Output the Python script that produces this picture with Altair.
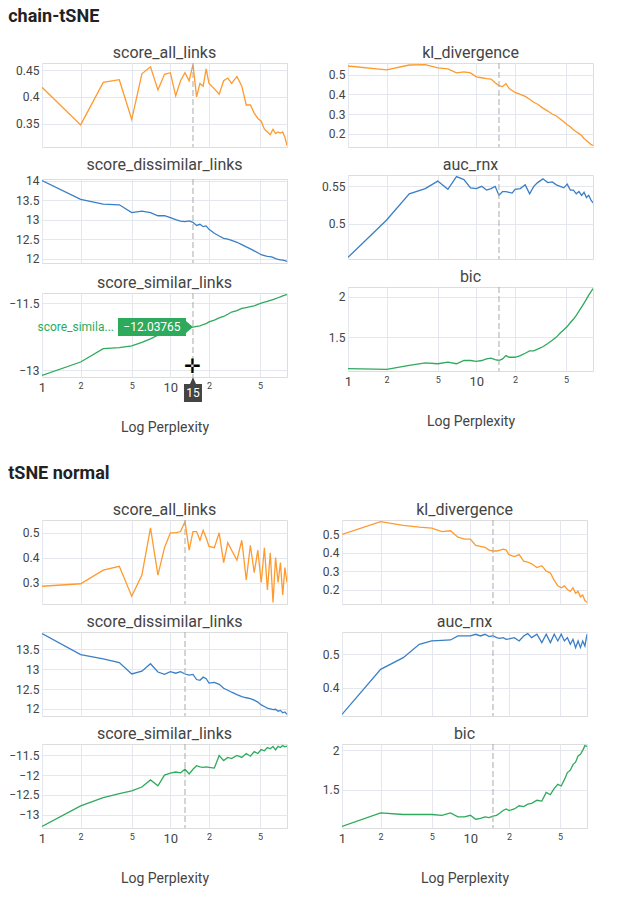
import altair as alt
import pandas as pd

X = list(range(1, 21)) + [22, 24, 26, 28, 30] + list(range(33, 82, 3))

chain_all = [.418,.348,.427,.432,.358,.443,.456,.413,.442,.445,.402,.43,.445,.43,.46,.40,.425,.42,.452,.425,
             .415,.405,.43,.435,.425,.438,.42,.385,.385,.37,.36,.355,.34,.335,.33,.34,.332,.335,.333,.335,.325,.31]
chain_dis = [14.0,13.52,13.4,13.38,13.18,13.22,13.18,13.1,13.1,13.05,13.0,12.96,12.95,12.97,12.93,12.85,12.88,12.82,12.84,12.75,
             12.65,12.58,12.52,12.5,12.47,12.42,12.36,12.3,12.25,12.2,12.15,12.1,12.08,12.06,12.05,12.03,12.0,11.98,11.97,11.96,11.95,11.93]
chain_sim = [-13.12,-12.82,-12.52,-12.5,-12.46,-12.38,-12.3,-12.22,-12.17,-12.12,-12.1,-12.08,-12.06,-12.05,-12.04,-12.02,-12.01,-11.98,-11.96,-11.92,
             -11.88,-11.83,-11.8,-11.75,-11.7,-11.67,-11.62,-11.6,-11.58,-11.56,-11.53,-11.5,-11.48,-11.46,-11.44,-11.42,-11.4,-11.38,-11.36,-11.34,-11.32,-11.31]
chain_kl = [.545,.525,.55,.552,.535,.53,.51,.515,.51,.49,.485,.48,.478,.46,.445,.44,.455,.43,.42,.41,
            .40,.39,.375,.36,.35,.33,.315,.30,.29,.275,.26,.245,.235,.22,.21,.2,.19,.175,.165,.155,.145,.14]
chain_auc = [.455,.505,.54,.547,.557,.546,.563,.559,.548,.547,.55,.545,.547,.55,.538,.543,.543,.542,.541,.546,
             .547,.552,.54,.55,.555,.56,.555,.556,.552,.55,.548,.553,.545,.545,.54,.543,.538,.542,.535,.538,.532,.528]
chain_bic = [1.11,1.10,1.15,1.18,1.17,1.19,1.17,1.21,1.21,1.20,1.21,1.23,1.24,1.22,1.21,1.23,1.27,1.25,1.25,1.25,
             1.27,1.30,1.33,1.33,1.35,1.38,1.42,1.46,1.50,1.55,1.59,1.63,1.68,1.72,1.77,1.82,1.87,1.92,1.97,2.02,2.06,2.1]

norm_all = [.285,.295,.35,.365,.245,.33,.52,.33,.44,.50,.50,.505,.545,.43,.505,.505,.47,.51,.48,.445,
            .44,.50,.38,.46,.43,.39,.47,.31,.45,.34,.43,.30,.44,.27,.42,.22,.40,.30,.38,.25,.36,.30]
norm_dis = [13.9,13.37,13.26,13.17,12.88,12.95,13.14,12.93,12.87,12.94,12.9,12.94,12.88,12.85,12.87,12.74,12.72,12.8,12.76,12.65,
            12.67,12.62,12.52,12.47,12.42,12.36,12.31,12.28,12.26,12.22,12.17,12.1,12.06,12.02,12.0,11.98,11.99,11.94,11.96,11.9,11.92,11.86]
norm_sim = [-13.3,-12.78,-12.57,-12.47,-12.4,-12.3,-12.12,-12.27,-12.0,-11.95,-11.92,-11.94,-11.85,-11.97,-11.85,-11.76,-11.79,-11.8,-11.79,-11.8,
            -11.82,-11.5,-11.63,-11.55,-11.58,-11.5,-11.55,-11.45,-11.52,-11.4,-11.45,-11.35,-11.38,-11.3,-11.33,-11.27,-11.36,-11.27,-11.3,-11.25,-11.28,-11.26]
norm_kl = [.50,.57,.55,.54,.535,.515,.52,.485,.475,.475,.44,.435,.43,.415,.41,.41,.415,.42,.415,.39,
           .38,.39,.355,.35,.34,.32,.33,.30,.29,.25,.22,.21,.22,.20,.19,.21,.18,.19,.16,.17,.14,.13]
norm_auc = [.32,.455,.49,.53,.54,.542,.543,.555,.555,.555,.56,.555,.56,.553,.556,.55,.548,.55,.545,.546,
            .55,.54,.555,.562,.55,.56,.535,.56,.535,.56,.54,.56,.54,.55,.53,.545,.52,.54,.52,.54,.525,.56]
norm_bic = [1.04,1.21,1.19,1.19,1.19,1.18,1.21,1.16,1.16,1.18,1.13,1.14,1.16,1.15,1.17,1.18,1.21,1.24,1.26,1.24,
            1.26,1.3,1.29,1.32,1.33,1.37,1.36,1.47,1.44,1.52,1.57,1.55,1.63,1.72,1.75,1.82,1.85,1.93,1.95,2.0,2.06,2.05]

ORANGE, BLUE, GREEN = "#ff9a2e", "#3a7fc5", "#2eaa5c"
GRID = "#e4e7ee"
TXT = "#444444"

sections = {
    "chain-tSNE": {
        "left": [("score_all_links", chain_all, ORANGE, [0.35, 0.4, 0.45]),
                 ("score_dissimilar_links", chain_dis, BLUE, [12, 12.5, 13, 13.5, 14]),
                 ("score_similar_links", chain_sim, GREEN, [-13, -12.5, -12, -11.5])],
        "right": [("kl_divergence", chain_kl, ORANGE, [0.2, 0.3, 0.4, 0.5]),
                  ("auc_rnx", chain_auc, BLUE, [0.5, 0.55]),
                  ("bic", chain_bic, GREEN, [1.5, 2])],
        "spike": (15, 15),
    },
    "tSNE normal": {
        "left": [("score_all_links", norm_all, ORANGE, [0.3, 0.4, 0.5]),
                 ("score_dissimilar_links", norm_dis, BLUE, [12, 12.5, 13, 13.5]),
                 ("score_similar_links", norm_sim, GREEN, [-13, -12.5, -12, -11.5])],
        "right": [("kl_divergence", norm_kl, ORANGE, [0.2, 0.3, 0.4, 0.5]),
                  ("auc_rnx", norm_auc, BLUE, [0.4, 0.5]),
                  ("bic", norm_bic, GREEN, [1.5, 2])],
        "spike": (13, 15),
    },
}

W, H = 245, 84


def panel(name, vals, color, ticks, bottom, spike_x, annot=False):
    df = pd.DataFrame({"x": X, "y": vals})
    lo, hi = min(vals), max(vals)
    pad = (hi - lo) * 0.02
    xaxis = alt.Axis(
        values=[1, 2, 5, 10, 20, 50], grid=True, gridColor=GRID, ticks=False, domain=False,
        labels=bottom, labelFlush=False, labelOverlap=False, labelColor=TXT, labelPadding=4,
        labelExpr="datum.value==20 ? '2' : datum.value==50 ? '5' : datum.label",
        labelFontSize={"condition": {"test": "datum.value==1 || datum.value==10", "value": 13}, "value": 9},
        title="Log Perplexity" if bottom else None, titleFontSize=14, titleFontWeight="normal",
        titleColor=TXT, titlePadding=26, format="d",
    )
    yaxis = alt.Axis(values=ticks, grid=True, gridColor=GRID, ticks=False, domain=False, labelOverlap=False,
                     labelColor=TXT, labelFontSize=12, format="~g", title=None, labelPadding=3)
    base = alt.Chart(df)
    line = base.mark_line(color=color, strokeWidth=1.3, clip=True).encode(
        x=alt.X("x:Q", scale=alt.Scale(type="log", domain=[1, 81], nice=False), axis=xaxis),
        y=alt.Y("y:Q", scale=alt.Scale(domain=[lo - pad, hi + pad], zero=False, nice=False), axis=yaxis),
    )
    rule = alt.Chart(pd.DataFrame({"x": [spike_x]})).mark_rule(
        color="#aaaaaa", strokeDash=[6, 3], strokeWidth=1).encode(x="x:Q")
    layers = [line, rule]
    if annot:
        ad = pd.DataFrame({"x": [15], "y": [-12.03765]})
        a = alt.Chart(ad)
        box = a.mark_point(
            shape="M0,0 L-0.14,-0.12 L-0.14,-0.18 L-1.5,-0.18 L-1.5,0.18 L-0.14,0.18 L-0.14,0.12 Z",
            size=10000, filled=True, color=GREEN, opacity=1).encode(x="x:Q", y="y:Q")
        val = a.mark_text(text="\u221212.03765", color="white", fontSize=12, dx=-41).encode(x="x:Q", y="y:Q")
        nm = a.mark_text(text="score_simila...", color=GREEN, fontSize=12, dx=-79, align="right").encode(x="x:Q", y="y:Q")
        xb = a.mark_point(
            shape="M0,0 L0.06,0.14 L0.18,0.14 L0.18,0.5 L-0.18,0.5 L-0.18,0.14 L-0.06,0.14 Z",
            size=10000, filled=True, color="#444444", opacity=1).encode(x="x:Q", y=alt.value(H))
        xt = a.mark_text(text="15", color="white", fontSize=12).encode(x="x:Q", y=alt.value(H + 16))
        cross = a.mark_text(text="\u271b", color="black", fontSize=20).encode(x="x:Q", y=alt.value(H - 10))
        layers += [box, val, nm, xb, xt, cross]
    return alt.layer(*layers).properties(
        width=W, height=H,
        title=alt.TitleParams(name, fontSize=16, fontWeight="normal", color=TXT, offset=2))


blocks = []
for sname, s in sections.items():
    cols = []
    for side, sx in (("left", s["spike"][0]), ("right", s["spike"][1])):
        items = s[side]
        col = alt.vconcat(*[
            panel(n, v, c, t, i == 2, sx, annot=(sname == "chain-tSNE" and side == "left" and i == 2))
            for i, (n, v, c, t) in enumerate(items)
        ], spacing=8)
        cols.append(col)
    blocks.append(alt.hconcat(*cols, spacing=33).properties(
        title=alt.TitleParams(sname, anchor="start", fontSize=18, fontWeight="bold", color="#222", offset=18)))

chart = alt.vconcat(*blocks, spacing=30).properties(padding={"left": 0, "top": 0, "right": 5, "bottom": 5}).configure_view(
    strokeWidth=0).configure(font="Roboto")

chart.save("out.html", embed_options={"renderer": "svg", "actions": False})
